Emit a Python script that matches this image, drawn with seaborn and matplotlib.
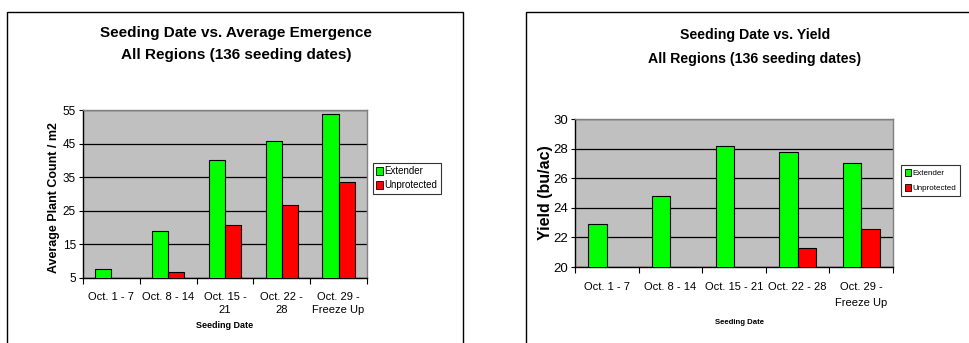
import numpy as np
import pandas as pd
import matplotlib
matplotlib.use("Agg")
import matplotlib.pyplot as plt
from matplotlib.patches import Patch, Rectangle
import seaborn as sns

# ---- data ----
emergence_periods = ["Oct. 1 - 7", "Oct. 8 - 14", "Oct. 15 -\n21", "Oct. 22 -\n28", "Oct. 29 -\nFreeze Up"]
yield_periods = ["Oct. 1 - 7", "Oct. 8 - 14", "Oct. 15 - 21", "Oct. 22 - 28", "Oct. 29 -\nFreeze Up"]
series = ["Extender", "Unprotected"]
emergence_extender = [7.8, 19.0, 40.0, 45.8, 53.8]
emergence_unprotected = [np.nan, 6.8, 20.8, 26.6, 33.5]
yield_extender = [22.9, 24.8, 28.2, 27.8, 27.0]
yield_unprotected = [np.nan, np.nan, np.nan, 21.3, 22.6]
emergence_ticks = [5, 15, 25, 35, 45, 55]
yield_ticks = [20, 22, 24, 26, 28, 30]

palette = {"Extender": "#00FF00", "Unprotected": "#FF0000"}

plt.rcParams["font.family"] = ["Liberation Sans", "DejaVu Sans"]


def long_frame(periods, ext, unp):
    rows = []
    for p, a, b in zip(periods, ext, unp):
        rows.append({"period": p, "series": "Extender", "value": a})
        rows.append({"period": p, "series": "Unprotected", "value": b})
    return pd.DataFrame(rows).dropna()


W, H = 969, 343
fig = plt.figure(figsize=(W / 100, H / 100), dpi=100)


def px_axes(x0, y0, x1, y1):
    return fig.add_axes([x0 / W, 1 - y1 / H, (x1 - x0) / W, (y1 - y0) / H])


def style_axes(ax, periods, ticks, xsize, ysize, pad, spacing):
    ax.set_facecolor("#C0C0C0")
    ax.set_ylim(ticks[0], ticks[-1])
    ax.set_yticks(ticks)
    ax.set_xlim(-0.5, len(periods) - 0.5)
    ax.set_xticks(range(len(periods)))
    ax.set_xticklabels(periods, linespacing=spacing)
    ax.set_xticks(np.arange(-0.5, len(periods)), minor=True)
    ax.tick_params(axis="x", which="major", length=0, pad=pad, labelsize=xsize)
    ax.tick_params(axis="x", which="minor", length=4, width=0.8, color="black", direction="out")
    ax.tick_params(axis="y", length=3, width=0.8, pad=2, labelsize=ysize)
    ax.yaxis.grid(True, color="black", lw=0.9)
    ax.set_axisbelow(True)
    for s in ("top", "right"):
        ax.spines[s].set_color("#808080")
        ax.spines[s].set_linewidth(1.0)
    for s in ("left", "bottom"):
        ax.spines[s].set_color("black")
        ax.spines[s].set_linewidth(1.0)


# ---- outer chart frames ----
fig.add_artist(Rectangle((7 / W, -0.02), 456 / W, 1 - 12 / H + 0.02, transform=fig.transFigure,
                         fill=False, edgecolor="black", lw=1.0))
fig.add_artist(Rectangle((526 / W, -0.02), 0.5, 1 - 12 / H + 0.02, transform=fig.transFigure,
                         fill=False, edgecolor="black", lw=1.0))

handles = [Patch(facecolor=palette[s], edgecolor="black", lw=0.6, label=s) for s in series]

# ---- left chart: emergence ----
ax1 = px_axes(83, 110, 367, 278)
df1 = long_frame(emergence_periods, emergence_extender, emergence_unprotected)
sns.barplot(data=df1, x="period", y="value", hue="series", order=emergence_periods,
            hue_order=series, palette=palette, width=0.57, gap=0, edgecolor="black",
            linewidth=0.8, saturation=1, legend=False, ax=ax1, zorder=3)
style_axes(ax1, emergence_periods, emergence_ticks, 8, 8.5, 10, 1.45)
ax1.set_ylabel("Average Plant Count / m2", fontsize=9, fontweight="bold")
ax1.yaxis.set_label_coords(-0.08, 0.48)
ax1.set_xlabel("Seeding Date", fontsize=6.5, fontweight="bold")
ax1.xaxis.set_label_coords(0.5, -0.255)
fig.text(236 / W, 1 - 44 / H, "Seeding Date vs. Average Emergence\nAll Regions (136 seeding dates)",
         ha="center", va="center", fontsize=11, fontweight="bold", linespacing=1.75)
leg1 = ax1.legend(handles=handles, loc="upper left", bbox_to_anchor=(373 / W, 1 - 163 / H),
                  bbox_transform=fig.transFigure, fontsize=7, frameon=True, fancybox=False,
                  edgecolor="black", handlelength=0.7, handleheight=0.9, handletextpad=0.15,
                  labelspacing=0.4, borderpad=0.35, borderaxespad=0)
leg1.get_frame().set_linewidth(0.8)

# ---- right chart: yield ----
ax2 = px_axes(575, 119, 893, 267)
df2 = long_frame(yield_periods, yield_extender, yield_unprotected)
sns.barplot(data=df2, x="period", y="value", hue="series", order=yield_periods,
            hue_order=series, palette=palette, width=0.58, gap=0, edgecolor="black",
            linewidth=0.8, saturation=1, legend=False, ax=ax2, zorder=3)
style_axes(ax2, yield_periods, yield_ticks, 8, 9.5, 11, 1.7)
ax2.set_ylabel("Yield (bu/ac)", fontsize=11.5, fontweight="bold")
ax2.yaxis.set_label_coords(-0.07, 0.5)
ax2.set_xlabel("Seeding Date", fontsize=5.6, fontweight="bold")
ax2.xaxis.set_label_coords(0.516, -0.35)
fig.text(755 / W, 1 - 47 / H, "Seeding Date vs. Yield\nAll Regions (136 seeding dates)",
         ha="center", va="center", fontsize=10.2, fontweight="bold", linespacing=1.9)
leg2 = ax2.legend(handles=handles, loc="upper left", bbox_to_anchor=(901 / W, 1 - 165 / H),
                  bbox_transform=fig.transFigure, fontsize=5.8,
                  frameon=True, fancybox=False, edgecolor="black", handlelength=0.8,
                  handleheight=1.1, handletextpad=0.15, labelspacing=0.8, borderpad=0.45,
                  borderaxespad=0)
leg2.get_frame().set_linewidth(0.8)

fig.savefig("out.png", dpi=100)
